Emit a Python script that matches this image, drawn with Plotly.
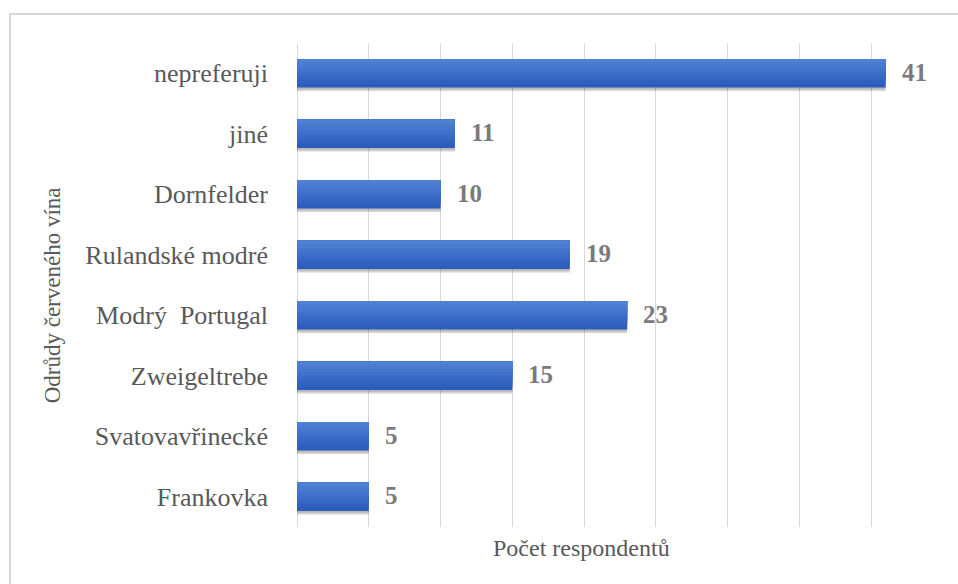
import plotly.graph_objects as go

# Red wine varieties preferred by respondents (bottom to top)
varieties = ["Frankovka", "Svatovavřinecké", "Zweigeltrebe", "Modrý  Portugal",
             "Rulandské modré", "Dornfelder", "jiné", "nepreferuji"]
respondents = [5, 5, 15, 23, 19, 10, 11, 41]

x_title = "Počet respondentů"
y_title = "Odrůdy červeného vína"

FONT = "Liberation Serif"
BAR_W = 0.47
N_LAYERS = 8
BOTTOM_RGB = (0x2c, 0x5c, 0xbc)
TOP_RGB = (0x50, 0x80, 0xd4)

fig = go.Figure()

# soft drop shadow under each bar
fig.add_trace(go.Bar(
    x=respondents, y=varieties, orientation="h",
    width=BAR_W, offset=-BAR_W / 2 - 0.06,
    marker=dict(color="rgba(60,60,60,0.22)", line=dict(width=0)),
    hoverinfo="skip", showlegend=False,
))
fig.add_trace(go.Bar(
    x=respondents, y=varieties, orientation="h",
    width=BAR_W, offset=-BAR_W / 2 - 0.03,
    marker=dict(color="rgba(60,60,60,0.18)", line=dict(width=0)),
    hoverinfo="skip", showlegend=False,
))

# vertical gradient: stacked layers, each lighter one covering the upper part
step = BAR_W / N_LAYERS
for i in range(N_LAYERS):
    t = i / (N_LAYERS - 1)
    r, g, b = (round(lo + (hi - lo) * t) for lo, hi in zip(BOTTOM_RGB, TOP_RGB))
    fig.add_trace(go.Bar(
        x=respondents, y=varieties, orientation="h",
        width=BAR_W - i * step, offset=-BAR_W / 2 + i * step,
        marker=dict(color=f"rgb({r},{g},{b})", line=dict(width=0)),
        hoverinfo="skip" if i else "x+y", showlegend=False,
    ))

# value labels beside the bars
for v, cat in zip(respondents, varieties):
    fig.add_annotation(
        x=v, y=cat, text=f"<b>{v}</b>", showarrow=False,
        xanchor="left", yanchor="middle", xshift=14, yshift=1,
        font=dict(family=FONT, size=25, color="#7a7a7a"),
    )

# axis titles
fig.add_annotation(
    text=x_title, xref="paper", yref="paper", x=0.441, y=-0.0434,
    xanchor="center", yanchor="middle", showarrow=False,
    font=dict(family=FONT, size=24, color="#595959"),
)
fig.add_annotation(
    text=y_title, xref="paper", yref="paper", x=-0.379, y=0.479,
    xanchor="center", yanchor="middle", textangle=-90, showarrow=False,
    font=dict(family=FONT, size=23, color="#595959"),
)

# outer chart frame
fig.add_shape(
    type="rect", xref="paper", yref="paper",
    x0=-0.4443, x1=1.04, y0=-0.2, y1=1.0599,
    line=dict(color="#d9d9d9", width=2), fillcolor="rgba(0,0,0,0)",
    layer="below",
)

fig.update_layout(
    width=958, height=584,
    margin=dict(l=297, r=15, t=43, b=57),
    paper_bgcolor="white", plot_bgcolor="white",
    barmode="overlay",
    xaxis=dict(
        range=[0, 45], dtick=5, showticklabels=False, ticks="",
        showgrid=True, gridcolor="#d9d9d9", gridwidth=1,
        zeroline=True, zerolinecolor="#d9d9d9", zerolinewidth=1,
        showline=False, fixedrange=True,
    ),
    yaxis=dict(
        categoryorder="array", categoryarray=varieties,
        showgrid=False, showline=False, ticks="",
        ticklabelstandoff=28,
        tickfont=dict(family=FONT, size=26, color="#595959"),
        fixedrange=True,
    ),
)

fig.write_html("out.html")
